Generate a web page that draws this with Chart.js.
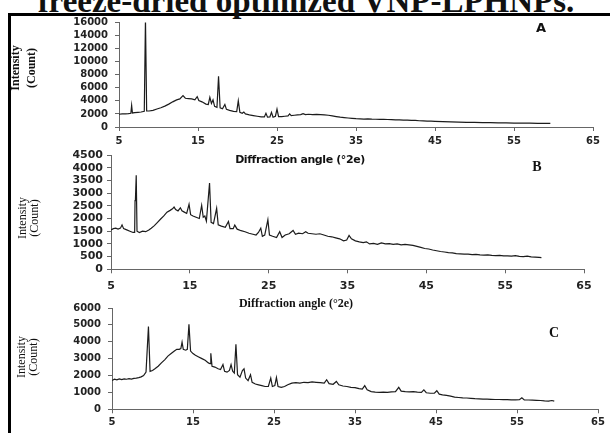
<!DOCTYPE html>
<html>
<head>
<meta charset="utf-8">
<script src="https://cdn.jsdelivr.net/npm/chart.js@4.4.1/dist/chart.umd.min.js"></script>
<style>
  html, body { margin: 0; padding: 0; background: #fff; }
  body { width: 610px; height: 433px; overflow: hidden; position: relative; }
  .frame { position: absolute; left: 8px; top: 13px; width: 610px; height: 430px;
           border-left: 3px solid #000; border-top: 3px solid #000; }
  canvas { position: absolute; left: 0; }
  .txt { position: absolute; white-space: nowrap; color: #111; transform: translate(-50%, -50%); }
  .main { left: 306px; top: -15px; transform: translateX(-50%); font: bold 33px "Liberation Serif", serif; line-height: 32px; }
  .ytitle { font-family: "Liberation Serif", serif; font-size: 12px; text-align: center; }
  .xtitle { font: bold 11px "DejaVu Sans", sans-serif; letter-spacing: -0.4px; }
</style>
</head>
<body>
<div class="frame"></div>
<div class="txt main">freeze-dried optimized VNP-LPHNPs.</div>

<canvas id="chartA" width="610" height="170" style="top:0px"></canvas>
<canvas id="chartB" width="610" height="167" style="top:145px"></canvas>
<canvas id="chartC" width="610" height="150" style="top:296px"></canvas>

<div class="txt ytitle" style="left:23px; top:68px; line-height:16px; transform: translate(-50%,-50%) rotate(-90deg); font-weight:bold;">Intensity<br>(Count)</div>
<div class="txt ytitle" style="left:28px; top:218px; line-height:12px; transform: translate(-50%,-50%) rotate(-90deg);">Intensity<br>(Count)</div>
<div class="txt ytitle" style="left:27px; top:357px; line-height:12px; transform: translate(-50%,-50%) rotate(-90deg);">Intensity<br>(Count)</div>

<div class="txt xtitle" style="left:300px; top:159px;">Diffraction angle (°2e)</div>
<div class="txt" style="left:296px; top:303px; font: bold 12px 'Liberation Serif', serif;">Diffraction angle (°2e)</div>
<div class="txt xtitle" style="left:290px; top:437px;">Diffraction angle (°2e)</div>

<div class="txt" style="left:541px; top:27px; font: 900 13px 'DejaVu Sans', sans-serif;">A</div>
<div class="txt" style="left:537px; top:167px; font: bold 14px 'Liberation Serif', serif;">B</div>
<div class="txt" style="left:554px; top:333px; font: bold 14px 'Liberation Serif', serif;">C</div>

<script>
// panel A
const angleA = [5.0, 5.4, 5.8, 6.2, 6.5, 6.6, 6.7, 7.0, 7.4, 7.8, 8.2, 8.35, 8.5, 8.8, 9.3, 9.8, 10.3, 10.8,
  11.3, 11.8, 12.3, 12.7, 13.1, 13.4, 13.8, 14.2, 14.6, 14.9, 15.1, 15.5, 16.0, 16.3, 16.5, 16.7, 16.9, 17.1,
  17.4, 17.6, 17.8, 18.1, 18.4, 18.6, 19.0, 19.5, 19.9, 20.1, 20.3, 20.6, 20.8, 21.0, 21.5, 22.0, 22.5, 23.0,
  23.4, 23.6, 23.8, 24.1, 24.3, 24.5, 24.8, 25.0, 25.2, 25.6, 26.0, 26.4, 26.6, 26.8, 27.2, 27.6, 28.0, 28.3,
  28.6, 29.0, 29.5, 30.0, 30.5, 31.0, 31.5, 32.0, 32.5, 33.0, 33.5, 34.0, 34.5, 35.0, 35.5, 36.0, 36.5, 37.0,
  37.5, 38.0, 38.5, 39.0, 39.5, 40.0, 40.5, 41.0, 41.5, 42.0, 42.5, 43.0, 43.5, 44.0, 44.5, 45.0, 46.0, 47.0,
  48.0, 49.0, 50.0, 51.0, 52.0, 53.0, 54.0, 55.0, 56.0, 57.0, 58.0, 59.0, 59.6];
const countA = [1950, 2000, 2020, 2050, 2100, 3300, 2150, 2200, 2250, 2300, 2400, 16600, 2450, 2450, 2550, 2750, 2950, 3200,
  3500, 3850, 4150, 4300, 4800, 4400, 4350, 4300, 4150, 4650, 4050, 3850, 3500, 3450, 4550, 3600, 4150, 3150,
  3000, 7750, 2950, 2800, 3450, 2700, 2550, 2400, 2350, 4000, 2250, 2100, 2300, 2000, 1850, 1750, 1650, 1550,
  1550, 2100, 1500, 1550, 2250, 1500, 1650, 2750, 1600, 1600, 1650, 1700, 2000, 1750, 1800, 1850, 1900, 2050,
  1900, 1950, 1900, 1920, 1880, 1850, 1800, 1700, 1600, 1500, 1450, 1380, 1320, 1270, 1250, 1220, 1240, 1200,
  1190, 1160, 1180, 1150, 1140, 1100, 1090, 1060, 1050, 1010, 1000, 960, 950, 910, 890, 860, 810, 780,
  750, 720, 700, 680, 660, 640, 620, 600, 590, 580, 570, 560, 555];

// panel B
const angleB = [5.0, 5.3, 5.6, 5.9, 6.2, 6.4, 6.6, 7.0, 7.4, 7.8, 8.0, 8.05, 8.1, 8.2, 8.3, 8.6, 9.0, 9.4, 9.8,
  10.1, 10.5, 10.9, 11.3, 11.7, 12.1, 12.5, 12.8, 13.0, 13.2, 13.5, 13.8, 14.0, 14.3, 14.6, 14.9, 15.1, 15.4,
  15.8, 16.2, 16.5, 16.7, 16.9, 17.1, 17.5, 17.7, 18.0, 18.4, 18.6, 19.0, 19.5, 19.9, 20.1, 20.5, 20.7, 21.0,
  21.5, 22.0, 22.5, 23.0, 23.4, 23.7, 24.0, 24.2, 24.5, 24.9, 25.1, 25.5, 26.0, 26.4, 26.7, 27.1, 27.6, 28.1,
  28.4, 28.8, 29.3, 29.7, 30.0, 30.5, 31.0, 31.5, 32.0, 32.5, 33.0, 33.5, 34.0, 34.5, 34.9, 35.2, 35.5, 36.0,
  36.5, 37.0, 37.4, 37.8, 38.3, 38.8, 39.3, 39.8, 40.3, 40.8, 41.3, 41.8, 42.3, 42.8, 43.3, 43.8, 44.3, 44.8,
  45.3, 45.8, 46.3, 46.8, 47.3, 47.8, 48.3, 48.8, 49.3, 49.8, 50.3, 50.8, 51.3, 51.8, 52.3, 52.8, 53.3, 53.8,
  54.3, 54.8, 55.3, 55.8, 56.3, 56.8, 57.3, 57.8, 58.3, 58.8, 59.3, 59.6];
const countB = [1550, 1600, 1620, 1580, 1620, 1750, 1600, 1550, 1500, 1450, 1450, 2700, 2750, 3700, 1500, 1450, 1500, 1480, 1550,
  1620, 1720, 1850, 1980, 2100, 2250, 2320, 2380, 2450, 2350, 2300, 2420, 2300, 2250, 2200, 2560, 2150, 2100,
  2050, 2000, 2520, 2050, 2100, 1900, 3400, 1850, 1800, 2400, 1750, 1700, 1650, 1880, 1600, 1600, 1740, 1580,
  1520, 1480, 1420, 1380, 1350, 1450, 1620, 1300, 1350, 1950, 1350, 1300, 1250, 1480, 1250, 1350, 1400, 1530,
  1380, 1420, 1400, 1480, 1420, 1400, 1380, 1400, 1350, 1300, 1280, 1240, 1200, 1120, 1150, 1330, 1200, 1120,
  1080, 1050, 1080, 1000, 1020, 980, 1040, 1000, 1010, 980, 1000, 960, 980, 960, 940, 900, 860, 820,
  800, 760, 730, 700, 680, 660, 650, 620, 610, 600, 600, 580, 590, 570, 560, 570, 550, 540,
  550, 530, 530, 520, 540, 510, 500, 520, 490, 480, 470, 460];

// panel C
const angleC = [5.0, 5.3, 5.6, 5.9, 6.2, 6.5, 6.8, 7.1, 7.4, 7.7, 8.0, 8.3, 8.6, 8.9, 9.2, 9.5, 9.7, 10.0, 10.3,
  10.7, 11.1, 11.5, 11.9, 12.3, 12.7, 13.0, 13.3, 13.5, 13.65, 13.8, 14.1, 14.3, 14.5, 14.7, 15.0, 15.3, 15.7,
  16.1, 16.5, 16.9, 17.1, 17.2, 17.35, 17.7, 18.1, 18.4, 18.7, 18.9, 19.2, 19.5, 19.7, 19.9, 20.1, 20.3, 20.5,
  20.8, 21.1, 21.3, 21.5, 21.8, 22.1, 22.3, 22.7, 23.1, 23.5, 23.9, 24.3, 24.6, 24.8, 25.1, 25.3, 25.5, 25.9,
  26.3, 26.7, 27.2, 27.7, 28.2, 28.7, 29.2, 29.7, 30.2, 30.7, 31.2, 31.5, 31.8, 32.3, 32.7, 33.0, 33.5, 34.0,
  34.5, 35.0, 35.5, 35.9, 36.2, 36.5, 37.0, 37.5, 38.0, 38.5, 39.0, 39.5, 40.0, 40.4, 40.7, 41.2, 41.7, 42.2,
  42.7, 43.2, 43.5, 43.8, 44.3, 44.8, 45.1, 45.4, 45.8, 46.3, 46.8, 47.3, 47.8, 48.3, 48.8, 49.3, 49.8, 50.3,
  50.8, 51.3, 51.8, 52.3, 52.8, 53.3, 53.8, 54.3, 54.8, 55.3, 55.6, 55.9, 56.4, 56.9, 57.4, 57.9, 58.4, 58.9,
  59.3, 59.6];
const countC = [1700, 1780, 1750, 1800, 1760, 1800, 1780, 1820, 1790, 1830, 1850, 1880, 1920, 2000, 2200, 4900, 2250, 2300, 2400,
  2550, 2750, 2930, 3150, 3300, 3450, 3550, 3550, 3600, 3980, 3550, 3500, 3550, 5030, 3450, 3300, 3200, 3100,
  3000, 2900, 2750, 2700, 3320, 2550, 2500, 2400, 2350, 2650, 2250, 2200, 2300, 2650, 2250, 2150, 3850, 2050,
  1900, 2300, 2400, 1850, 1700, 2050, 1600, 1500, 1450, 1400, 1350, 1350, 1850, 1350, 1400, 1880, 1350, 1300,
  1350, 1450, 1550, 1580, 1550, 1600, 1580, 1620, 1600, 1580, 1550, 1750, 1520, 1480, 1650, 1450, 1380, 1350,
  1300, 1280, 1220, 1200, 1400, 1150, 1050, 1020, 1000, 1020, 1000, 1030, 1050, 1300, 1080, 1050, 1030, 1050,
  1020, 1000, 1150, 980, 950, 960, 1100, 900, 850, 820, 780, 720, 700, 680, 670, 650, 630, 620,
  600, 600, 590, 580, 580, 570, 570, 560, 560, 570, 680, 560, 550, 540, 530, 520, 500, 490,
  520, 480];

const xTicks = { min: 5, max: 65, step: 10 };

function makePanel(id, angles, counts, o) {
  const tickFont = { family: "DejaVu Sans", weight: "bold", size: o.fontSize, lineHeight: 1 };
  return new Chart(document.getElementById(id), {
    type: "line",
    data: {
      datasets: [{
        data: angles.map((a, i) => ({ x: a, y: counts[i] })),
        borderColor: "#1c1c1c",
        borderWidth: 1.2,
        pointRadius: 0,
        tension: 0
      }]
    },
    options: {
      responsive: false,
      animation: false,
      layout: { padding: o.padding },
      plugins: { legend: { display: false }, tooltip: { enabled: false } },
      scales: {
        x: {
          type: "linear",
          min: xTicks.min, max: xTicks.max,
          afterFit: s => { s.height = o.xHeight; },
          border: { color: "#666", width: 1 },
          grid: { drawOnChartArea: false, tickLength: 4, color: "#666" },
          ticks: { stepSize: xTicks.step, padding: o.xPad, color: "#222", font: tickFont, maxRotation: 0, autoSkip: false }
        },
        y: {
          min: 0, max: o.yMax,
          afterFit: s => { s.width = o.yWidth; },
          border: { color: "#666", width: 1 },
          grid: { drawOnChartArea: false, tickLength: 4, color: "#666" },
          ticks: { stepSize: o.yStep, padding: o.yPad, color: "#222", font: tickFont, autoSkip: false, callback: v => String(v) }
        }
      }
    }
  });
}

makePanel("chartA", angleA, countA, {
  yMax: 16000, yStep: 2000, yWidth: 119, xHeight: 43, xPad: 5, yPad: 7, fontSize: 10,
  padding: { top: 22.5, right: 17, bottom: 0, left: 0 }
});
makePanel("chartB", angleB, countB, {
  yMax: 4500, yStep: 500, yWidth: 111, xHeight: 42.7, xPad: 7, yPad: 4, fontSize: 11,
  padding: { top: 10, right: 26, bottom: 0, left: 0 }
});
makePanel("chartC", angleC, countC, {
  yMax: 6000, yStep: 1000, yWidth: 112, xHeight: 36.7, xPad: 4, yPad: 7, fontSize: 10,
  padding: { top: 10, right: 12, bottom: 0, left: 0 }
});
</script>
</body>
</html>
